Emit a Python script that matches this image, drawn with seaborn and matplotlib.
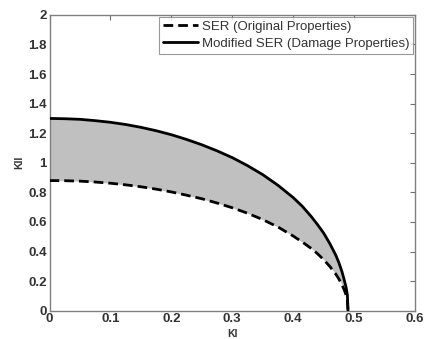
import matplotlib
matplotlib.use("Agg")
import matplotlib.pyplot as plt
import seaborn as sns
import pandas as pd
import numpy as np

ki = [0.0, 0.025, 0.05, 0.075, 0.10, 0.125, 0.15, 0.175, 0.20, 0.225, 0.25, 0.275, 0.30, 0.325,
      0.35, 0.375, 0.40, 0.415, 0.43, 0.44, 0.45, 0.46, 0.47, 0.475, 0.48, 0.484, 0.487, 0.489, 0.49]
kii_original = [0.88, 0.879, 0.876, 0.870, 0.862, 0.851, 0.838, 0.822, 0.803, 0.781, 0.757, 0.728,
                0.696, 0.659, 0.616, 0.566, 0.505, 0.464, 0.420, 0.385, 0.345, 0.300, 0.247, 0.215,
                0.176, 0.139, 0.104, 0.070, 0.0]
kii_modified = [1.30, 1.298, 1.294, 1.285, 1.274, 1.259, 1.240, 1.217, 1.190, 1.158, 1.122, 1.081,
                1.035, 0.981, 0.920, 0.848, 0.765, 0.706, 0.635, 0.582, 0.525, 0.455, 0.375, 0.325,
                0.265, 0.205, 0.155, 0.105, 0.0]

label_orig = "SER (Original Properties)"
label_mod = "Modified SER (Damage Properties)"

sns.set_style("white")
plt.rcParams['font.family'] = ['Liberation Sans', 'DejaVu Sans']

df = pd.DataFrame({
    "KI": ki * 2,
    "KII": kii_original + kii_modified,
    "curve": [label_orig] * len(ki) + [label_mod] * len(ki),
})

fig = plt.figure(figsize=(4.25, 3.39), dpi=100)
ax = fig.add_axes([0.1165, 0.0835, 0.86, 0.8725])

ax.fill_between(ki, kii_original, kii_modified, color="#c0c0c0", linewidth=0, zorder=1)
sns.lineplot(data=df, x="KI", y="KII", hue="curve", style="curve",
             palette={label_orig: "black", label_mod: "black"},
             dashes={label_orig: (3.5, 1.8), label_mod: ""},
             linewidth=2.0, sort=False, ax=ax, zorder=3)

ax.set_xlim(0, 0.6)
ax.set_ylim(0, 2)
ax.set_xticks(np.arange(0, 0.61, 0.1))
ax.set_xticklabels(["0", "0.1", "0.2", "0.3", "0.4", "0.5", "0.6"])
ax.set_yticks(np.arange(0, 2.01, 0.2))
ax.set_yticklabels(["0", "0.2", "0.4", "0.6", "0.8", "1", "1.2", "1.4", "1.6", "1.8", "2"])
ax.tick_params(direction="in", length=3.5, width=0.8, colors="#707070", labelcolor="#333333",
               labelsize=9.5, top=True, right=True, pad=2)
for lbl in ax.get_xticklabels() + ax.get_yticklabels():
    lbl.set_fontweight("bold")
for s in ax.spines.values():
    s.set_color("#808080")
    s.set_linewidth(1.0)
ax.set_xlabel("KI", fontsize=7.5, fontweight="bold", labelpad=2.5, color="#333333")
ax.set_ylabel("KII", fontsize=7.5, fontweight="bold", labelpad=3, color="#333333")

leg = ax.legend(loc="upper right", fontsize=9.5, frameon=True, fancybox=False,
                borderaxespad=0.15, handlelength=2.6, borderpad=0.3, labelspacing=0.35,
                handletextpad=0.3, edgecolor="#808080")
leg.get_frame().set_linewidth(0.8)
for t in leg.get_texts():
    t.set_color("#333333")

fig.savefig("out.png", dpi=100)
